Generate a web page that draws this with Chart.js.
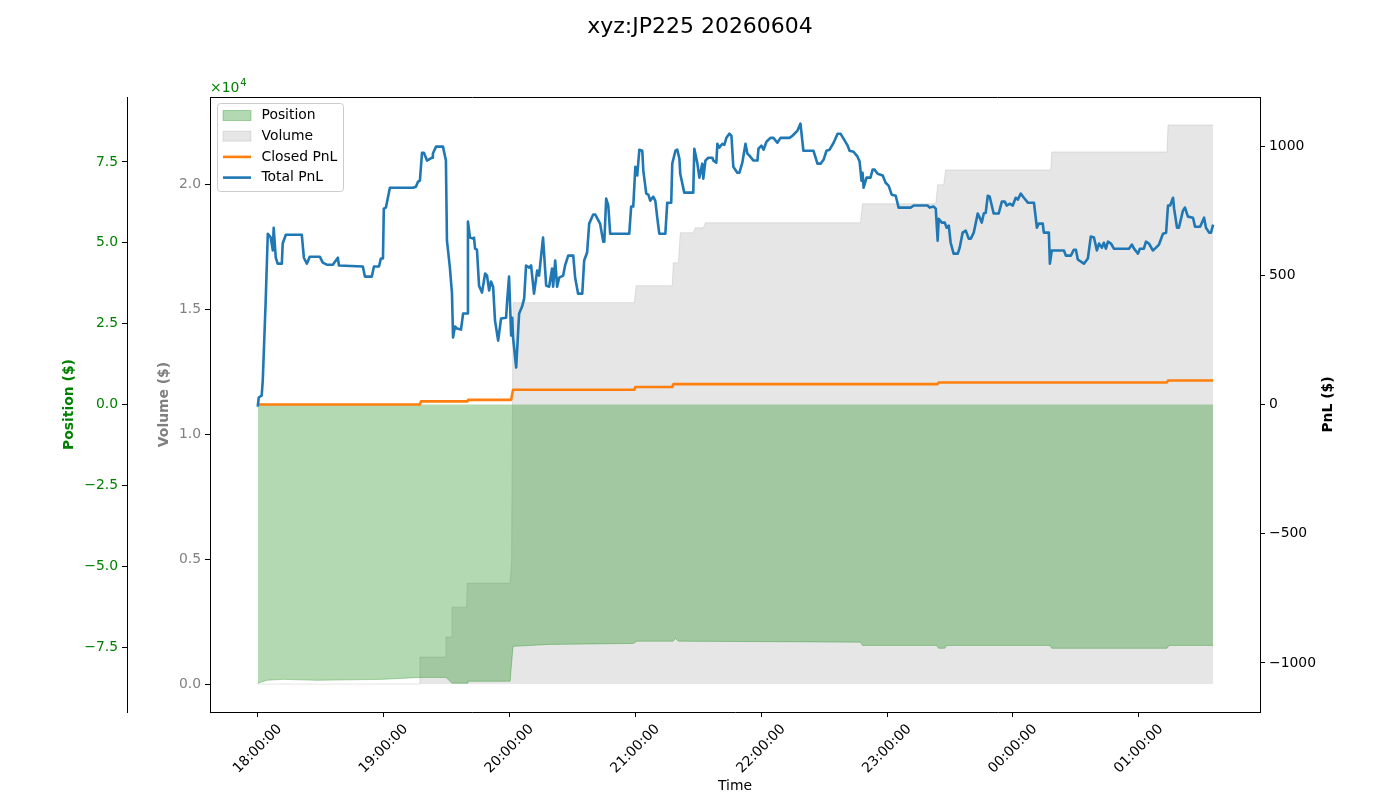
<!DOCTYPE html>
<html>
<head>
<meta charset="utf-8">
<title>xyz:JP225 20260604</title>
<script src="https://cdn.jsdelivr.net/npm/chart.js@4.4.1/dist/chart.umd.min.js"></script>
<style>
  html, body { margin: 0; padding: 0; background: #fff; }
</style>
</head>
<body>
<canvas id="pnl" width="1400" height="800"></canvas>
<script>
// times are minutes after 18:00 (session of 2026-06-04, runs past midnight)
const timeTicks = [0, 60, 120, 180, 240, 300, 360, 420];
const timeLabels = ['18:00:00', '19:00:00', '20:00:00', '21:00:00', '22:00:00', '23:00:00', '00:00:00', '01:00:00'];

const totalTimes = [
  0, 0.5, 1.9, 2.4, 3.8, 4.8, 6.2, 7.2, 7.6, 8.6,
  9.5, 11.5, 11.9, 13.4, 21.0, 22.0, 23.4, 24.8, 29.6, 31.0,
  32.9, 35.8, 38.2, 38.7, 50.1, 51.1, 54.4, 55.4, 57.8, 58.7,
  59.7, 60.1, 61.1, 63.0, 74.0, 75.4, 76.4, 77.3, 78.3, 79.2,
  80.7, 83.1, 83.5, 85.0, 88.3, 89.7, 90.2, 91.6, 92.6, 93.1,
  94.0, 95.0, 96.9, 97.9, 99.8, 100.2, 101.2, 102.6, 103.1, 103.6,
  104.5, 105.5, 106.9, 108.4, 109.3, 110.3, 111.2, 112.2, 113.1, 114.6,
  116.0, 118.4, 118.9, 119.8, 120.8, 121.3, 121.7, 123.2, 124.6, 126.0,
  127.0, 127.9, 129.4, 130.3, 131.7, 133.2, 134.1, 136.0, 137.5, 138.9,
  140.3, 140.8, 141.8, 142.7, 143.7, 145.6, 146.5, 148.0, 150.4, 151.3,
  152.7, 154.7, 155.6, 157.0, 158.0, 159.9, 160.9, 163.2, 164.7, 165.2,
  166.1, 167.1, 168.0, 177.1, 178.0, 179.0, 180.0, 180.9, 181.9, 183.3,
  183.8, 185.2, 186.2, 187.1, 188.5, 189.5, 190.5, 191.4, 194.3, 195.2,
  197.1, 197.6, 199.1, 200.0, 201.0, 201.4, 203.3, 207.6, 208.1, 209.5,
  210.5, 211.9, 212.4, 213.4, 214.8, 216.7, 217.2, 218.6, 219.1, 220.0,
  221.5, 222.4, 223.4, 224.8, 225.8, 226.7, 228.6, 229.6, 231.0, 232.5,
  233.4, 234.4, 236.3, 238.2, 238.7, 240.1, 241.1, 242.5, 244.4, 245.8,
  247.7, 249.2, 253.5, 254.9, 257.3, 258.7, 260.1, 264.9, 266.8, 268.3,
  269.7, 271.1, 272.6, 274.5, 276.4, 277.8, 281.2, 282.1, 284.0, 285.9,
  286.9, 287.8, 288.3, 288.8, 290.2, 292.1, 293.1, 294.0, 295.5, 297.9,
  299.3, 300.7, 302.2, 304.1, 305.5, 309.8, 311.2, 312.7, 319.3, 320.3,
  322.2, 323.2, 324.1, 324.6, 326.0, 327.5, 328.4, 329.4, 330.3, 331.7,
  333.7, 334.6, 336.0, 337.5, 338.9, 339.9, 341.3, 343.2, 343.7, 345.1,
  346.1, 347.0, 348.0, 348.9, 350.8, 353.2, 354.7, 356.1, 357.0, 358.5,
  359.9, 361.3, 362.3, 363.7, 365.2, 367.1, 370.0, 371.4, 372.3, 374.2,
  374.7, 377.1, 377.6, 378.5, 384.3, 385.2, 387.6, 389.0, 390.0, 390.9,
  393.8, 395.7, 397.1, 398.6, 400.0, 401.0, 402.4, 403.3, 404.3, 405.3,
  406.7, 408.1, 415.3, 416.7, 417.7, 419.6, 420.5, 422.4, 423.4, 424.8,
  426.7, 428.2, 429.6, 431.5, 433.0, 433.9, 434.9, 436.3, 436.8, 438.2,
  439.1, 441.0, 442.0, 443.4, 445.8, 446.8, 449.2, 451.1, 452.0, 453.5, 454.4, 455.4
];
const totalPnl = [
  -8, 27, 35, 93, 402, 661, 646, 596, 684, 568,
  545, 545, 623, 657, 657, 568, 545, 572, 572, 549,
  541, 541, 568, 538, 534, 495, 495, 534, 534, 565,
  565, 758, 762, 839, 839, 843, 862, 866, 974, 974,
  944, 955, 971, 998, 998, 944, 634, 530, 429, 259,
  302, 294, 290, 352, 352, 708, 646, 642, 646, 603,
  599, 460, 433, 507, 499, 441, 476, 456, 325, 247,
  333, 336, 402, 495, 267, 336, 259, 143, 352, 379,
  410, 538, 530, 538, 429, 518, 499, 646, 460, 456,
  526, 456, 557, 456, 491, 499, 538, 576, 576, 491,
  429, 429, 557, 588, 700, 735, 735, 700, 630, 630,
  797, 770, 661, 661, 766, 766, 920, 886, 986, 982,
  905, 816, 812, 789, 804, 789, 719, 661, 661, 781,
  781, 932, 982, 986, 951, 893, 820, 820, 990, 936,
  878, 932, 874, 944, 955, 955, 944, 936, 1009, 994,
  1009, 1005, 1032, 1048, 1040, 920, 897, 897, 936, 1009,
  971, 963, 944, 944, 990, 1002, 986, 1017, 1032, 1032,
  1013, 1032, 1032, 1040, 1060, 1087, 982, 982, 932, 932,
  947, 982, 986, 1013, 1048, 1048, 1002, 982, 978, 959,
  940, 866, 897, 839, 878, 878, 909, 909, 893, 886,
  858, 847, 812, 808, 762, 762, 762, 770, 770, 762,
  766, 758, 634, 719, 704, 704, 684, 692, 626, 584,
  584, 607, 665, 673, 642, 642, 665, 739, 731, 704,
  739, 742, 808, 804, 739, 739, 785, 785, 770, 777,
  770, 800, 793, 816, 800, 781, 781, 684, 700, 700,
  665, 665, 545, 596, 596, 576, 576, 599, 599, 561,
  545, 565, 650, 646, 596, 623, 607, 626, 603, 630,
  623, 603, 603, 619, 603, 584, 603, 603, 630, 623,
  596, 607, 619, 661, 665, 770, 770, 800, 758, 684,
  684, 750, 762, 727, 723, 688, 688, 723, 684, 665, 665, 696
];

const closedTimes = [0, 77.3, 77.8, 100.0, 100.3, 120.8, 121.7, 179.5, 180.0, 197.6, 198.1, 324.1, 324.6, 433.4, 433.9, 455.4];
const closedPnl = [0, 0, 12, 12, 18, 18, 57, 57, 68, 68, 79, 79, 85, 85, 93, 93];

const posTimes = [0, 4.3, 11.9, 28.2, 59.7, 77.3, 89.7, 90.7, 92.6, 99.8,
  100.2, 120.3, 121.7, 139.0, 179.0, 180.9, 198.0, 199.0, 200.5, 287.3,
  288.3, 323.6, 324.6, 327.5, 328.4, 377.6, 378.5, 433.4, 434.4, 455.4];
const posValues = [-86200, -85300, -85000, -85300, -85000, -84400, -84400, -85000, -86200, -86200,
  -85600, -85600, -74800, -74200, -73900, -73200, -73200, -72300, -73200, -73500,
  -74500, -74500, -75400, -75400, -74500, -74500, -75400, -75400, -74500, -74500];

const volTimes = [0, 77.0, 77.3, 89.5, 89.7, 92.4, 92.6, 99.6, 99.8, 120.3,
  121.0, 121.7, 179.5, 180.4, 197.6, 198.1, 200.5, 201.4, 207.6, 208.6,
  212.4, 213.4, 287.3, 288.3, 323.2, 324.1, 327.0, 327.9, 378.0, 378.5,
  433.4, 433.9, 455.4];
const volValues = [0, 0, 1080, 1080, 1880, 1880, 3080, 3080, 4040, 4040,
  5000, 15280, 15280, 15960, 15960, 16880, 16880, 18080, 18080, 18280,
  18280, 18480, 18480, 19240, 19240, 20000, 20000, 20600, 20600, 21320,
  21320, 22400, 22400];

const pnlTicks = [-1000, -500, 0, 500, 1000];
const posTicks = [-75000, -50000, -25000, 0, 25000, 50000, 75000];
const volTicks = [0, 5000, 10000, 15000, 20000];

const pts = (xs, ys) => xs.map((x, i) => ({x: x, y: ys[i]}));
const minus = s => s.replace('-', '\u2212');

Chart.defaults.font.family = "'DejaVu Sans', sans-serif";
Chart.defaults.font.size = 13.9;
Chart.defaults.color = '#000';

const FS = 13.9;

// top spine, offset text, right axis label and in-axes legend
const extras = {
  id: 'extras',
  afterDraw(chart) {
    const {ctx, chartArea: a} = chart;
    ctx.save();
    ctx.strokeStyle = '#000';
    ctx.lineWidth = 1;
    ctx.beginPath();
    ctx.moveTo(a.left, Math.round(a.top) + 0.5);
    ctx.lineTo(a.right, Math.round(a.top) + 0.5);
    ctx.stroke();

    // scale factor text
    ctx.fillStyle = 'green';
    ctx.textBaseline = 'alphabetic';
    ctx.textAlign = 'left';
    ctx.font = FS + "px 'DejaVu Sans'";
    ctx.fillText('\u00d710', a.left, a.top - 5);
    const w = ctx.measureText('\u00d710').width;
    ctx.font = (FS * 0.7) + "px 'DejaVu Sans'";
    ctx.fillText('4', a.left + w + 1, a.top - 11);

    // PnL axis label, bottom-to-top like the left ones
    ctx.fillStyle = '#000';
    ctx.font = "bold " + FS + "px 'DejaVu Sans'";
    ctx.translate(1328, (a.top + a.bottom) / 2);
    ctx.rotate(-Math.PI / 2);
    ctx.textAlign = 'center';
    ctx.textBaseline = 'middle';
    ctx.fillText('PnL ($)', 0, 0);
    ctx.setTransform(1, 0, 0, 1, 0, 0);

    // legend
    const ds = chart.data.datasets;
    const order = ['Position', 'Volume', 'Closed PnL', 'Total PnL'];
    const bx = a.left + 7.5, by = a.top + 6.5;
    ctx.beginPath();
    ctx.roundRect(bx, by, 126, 88, 3);
    ctx.fillStyle = 'rgba(255,255,255,0.8)';
    ctx.fill();
    ctx.strokeStyle = '#cccccc';
    ctx.stroke();
    ctx.font = FS + "px 'DejaVu Sans'";
    ctx.textAlign = 'left';
    ctx.textBaseline = 'middle';
    order.forEach((name, i) => {
      const d = ds.find(s => s.label === name);
      const cy = by + 12 + i * 20.7;
      if (d.fill) {
        ctx.fillStyle = d.backgroundColor;
        ctx.fillRect(bx + 5.5, cy - 5, 28, 10);
        ctx.strokeStyle = d.borderColor;
        ctx.lineWidth = 1;
        ctx.strokeRect(bx + 5.5, cy - 5, 28, 10);
      } else {
        ctx.strokeStyle = d.borderColor;
        ctx.lineWidth = d.borderWidth;
        ctx.beginPath();
        ctx.moveTo(bx + 5.5, cy);
        ctx.lineTo(bx + 33.5, cy);
        ctx.stroke();
      }
      ctx.fillStyle = '#000';
      ctx.fillText(name, bx + 44, cy);
    });
    ctx.restore();
  }
};

const tickGrid = {drawOnChartArea: false, tickLength: 5, tickColor: '#000', color: '#000'};

new Chart(document.getElementById('pnl'), {
  type: 'line',
  data: {
    datasets: [
      {
        label: 'Total PnL', data: pts(totalTimes, totalPnl), yAxisID: 'yPnl',
        borderColor: '#1f77b4', borderWidth: 2.6, pointRadius: 0, fill: false,
        borderJoinStyle: 'round', tension: 0
      },
      {
        label: 'Closed PnL', data: pts(closedTimes, closedPnl), yAxisID: 'yPnl',
        borderColor: '#ff7f0e', borderWidth: 2.6, pointRadius: 0, fill: false,
        borderJoinStyle: 'round', tension: 0
      },
      {
        label: 'Position', data: pts(posTimes, posValues), yAxisID: 'yPos',
        borderColor: 'rgba(0,128,0,0.3)', backgroundColor: 'rgba(0,128,0,0.3)',
        borderWidth: 1, pointRadius: 0, fill: 'origin', tension: 0
      },
      {
        label: 'Volume', data: pts(volTimes, volValues), yAxisID: 'yVol',
        borderColor: 'rgba(128,128,128,0.2)', backgroundColor: 'rgba(128,128,128,0.2)',
        borderWidth: 1, pointRadius: 0, fill: 'origin', tension: 0
      }
    ]
  },
  options: {
    responsive: false,
    animation: false,
    events: [],
    layout: {padding: 0},
    plugins: {
      legend: {display: false},
      tooltip: {enabled: false},
      title: {
        display: true, text: 'xyz:JP225 20260604', color: '#000',
        font: {size: 22, weight: 'normal'},
        padding: {top: 13.8, bottom: 56.8}
      }
    },
    scales: {
      x: {
        type: 'linear', min: -22.75, max: 477.75,
        afterBuildTicks: s => { s.ticks = timeTicks.map(v => ({value: v})); },
        afterFit: s => { s.height = 88; },
        ticks: {
          autoSkip: false, minRotation: 45, maxRotation: 45, labelOffset: 22, padding: 4,
          callback: (v, i) => timeLabels[i]
        },
        grid: tickGrid,
        border: {color: '#000'},
        title: {display: true, text: 'Time', padding: {top: 0, bottom: 5}}
      },
      yPnl: {
        position: 'right', min: -1190, max: 1190,
        afterBuildTicks: s => { s.ticks = pnlTicks.map(v => ({value: v})); },
        afterFit: s => { s.width = 140; },
        ticks: {padding: 4, callback: v => minus(String(v))},
        grid: tickGrid,
        border: {color: '#000'}
      },
      yPos: {
        position: 'left', weight: 1, min: -95100, max: 95100,
        afterBuildTicks: s => { s.ticks = posTicks.map(v => ({value: v})); },
        afterFit: s => { s.width = 127; },
        ticks: {color: 'green', padding: 4, callback: v => minus((v / 1e4).toFixed(1))},
        grid: tickGrid,
        border: {color: '#000'},
        title: {display: true, text: 'Position ($)', color: 'green', font: {weight: 'bold'}, padding: {top: 60.7, bottom: 0}}
      },
      yVol: {
        position: 'left', weight: 0, min: -1120, max: 23520,
        afterBuildTicks: s => { s.ticks = volTicks.map(v => ({value: v})); },
        afterFit: s => { s.width = 83; },
        ticks: {color: 'gray', padding: 4, callback: v => (v / 1e4).toFixed(1)},
        grid: tickGrid,
        border: {color: '#000'},
        title: {display: true, text: 'Volume ($)', color: 'gray', font: {weight: 'bold'}, padding: {top: 28.7, bottom: 0}}
      }
    }
  },
  plugins: [extras]
});
</script>
</body>
</html>
